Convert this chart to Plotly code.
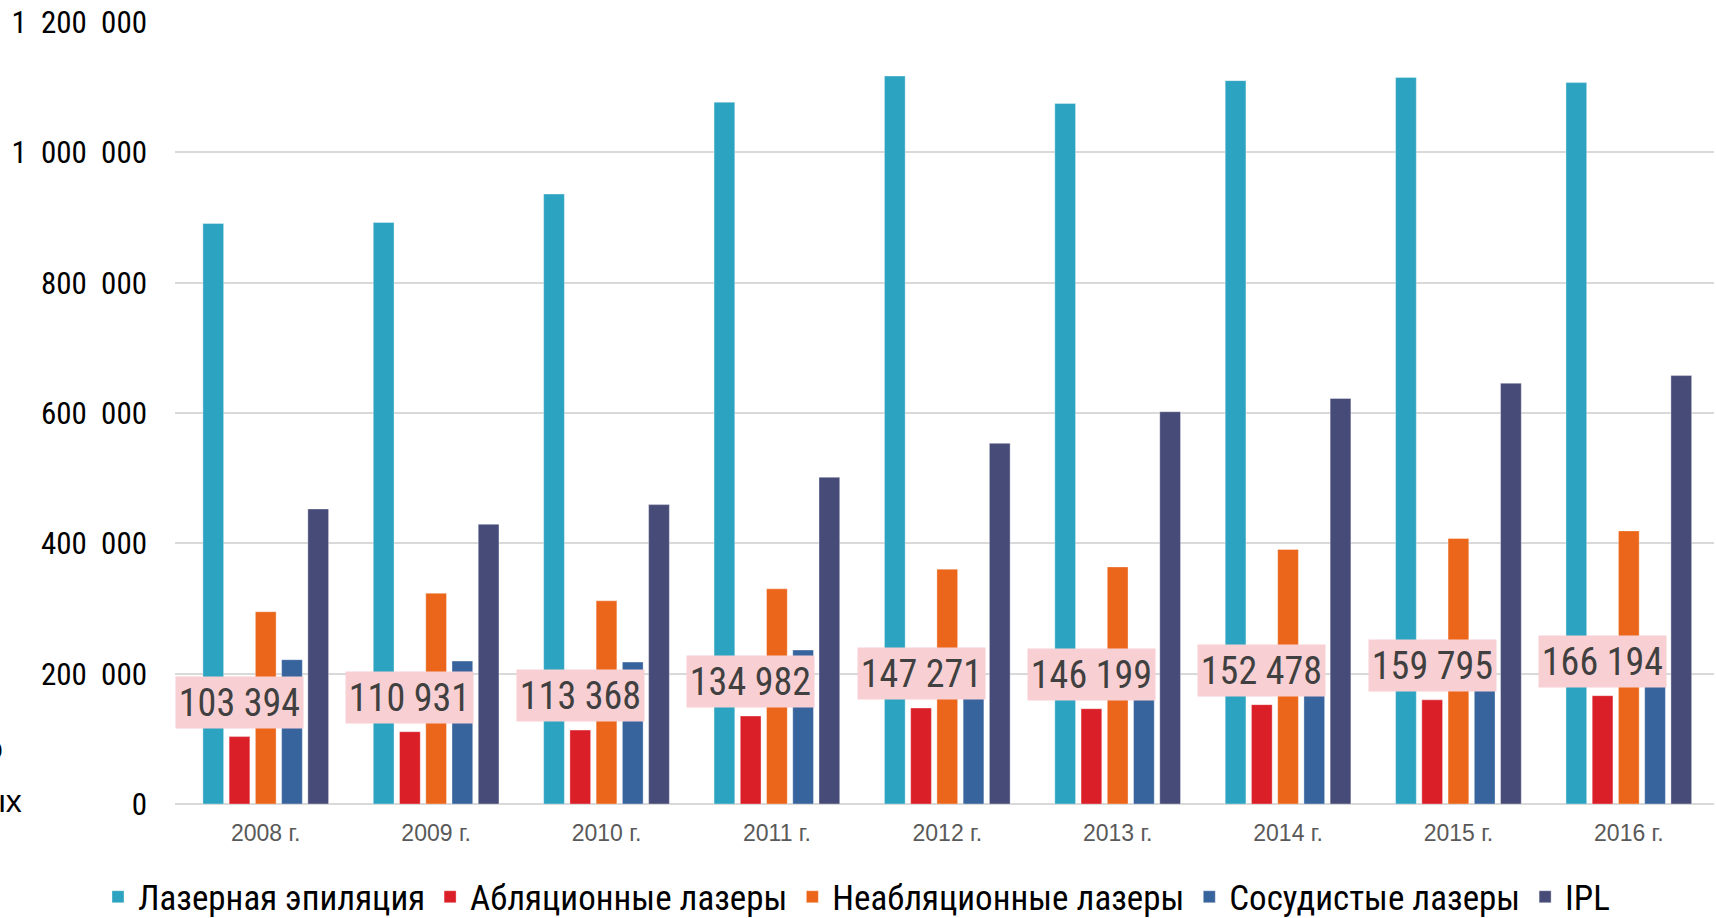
import plotly.graph_objects as go

years = ["2008 г.", "2009 г.", "2010 г.", "2011 г.", "2012 г.", "2013 г.", "2014 г.", "2015 г.", "2016 г."]
series_names = ["Лазерная эпиляция", "Абляционные лазеры", "Неабляционные лазеры", "Сосудистые лазеры", "IPL"]
hair_removal = [890700, 892400, 936000, 1077000, 1117000, 1075000, 1110000, 1115000, 1107000]
ablative = [103394, 110931, 113368, 134982, 147271, 146199, 152478, 159795, 166194]
non_ablative = [295000, 323500, 311800, 330200, 360400, 363800, 390600, 407400, 419100]
vascular = [221500, 219300, 217800, 236300, 225000, 222000, 230000, 236000, 242000]
ipl = [452700, 429200, 459400, 501400, 553400, 602000, 622200, 645700, 657400]
colors = ["#2CA3C0", "#DA1F28", "#EB661B", "#38649E", "#474B78"]
label_texts = ["103 394", "110 931", "113 368", "134 982", "147 271", "146 199", "152 478", "159 795", "166 194"]
y_tickvals = [0, 200000, 400000, 600000, 800000, 1000000, 1200000]
y_ticktext = ["0", "200\u00a0\u00a0000", "400\u00a0\u00a0000", "600\u00a0\u00a0000", "800\u00a0\u00a0000",
              "1\u00a0\u00a0000\u00a0\u00a0000", "1\u00a0\u00a0200\u00a0\u00a0000"]

NARROW = "Roboto Condensed, Liberation Sans Narrow, DejaVu Sans Condensed, sans-serif"

fig = go.Figure()
for name, vals, col in zip(series_names, [hair_removal, ablative, non_ablative, vascular, ipl], colors):
    fig.add_trace(go.Bar(
        name=name, x=years, y=vals,
        marker=dict(color=col, line=dict(color="rgba(255,255,255,0.35)", width=1)),
        hoverinfo="skip",
    ))

bargap = 0.23
slot = (1 - bargap) / 5
for i, (v, t) in enumerate(zip(ablative, label_texts)):
    fig.add_annotation(
        x=i - slot, y=v, xref="x", yref="y", text=t, showarrow=False,
        xanchor="center", yanchor="bottom", yshift=8,
        width=127, height=51, borderpad=0,
        bgcolor="#F8D0D3",
        font=dict(family=NARROW, size=38, color="#404040"),
    )

# partially visible axis title fragments at the left edge
fig.add_annotation(x=(5 - 175) / 1539, y=(804 - 748) / 782.3, xref="paper", yref="paper",
                   text="Количество", showarrow=False, xanchor="right", yanchor="middle",
                   font=dict(family="Liberation Sans, Arial, sans-serif", size=32, color="#000000"))
fig.add_annotation(x=(24 - 175) / 1539, y=(804 - 801) / 782.3, xref="paper", yref="paper",
                   text="лазерных", showarrow=False, xanchor="right", yanchor="middle",
                   font=dict(family="Liberation Sans, Arial, sans-serif", size=32, color="#000000"))

fig.update_layout(
    width=1716, height=918,
    margin=dict(l=175, r=2, t=22, b=114, autoexpand=False),
    paper_bgcolor="white", plot_bgcolor="white",
    barmode="group", bargap=bargap, bargroupgap=0.21,
    showlegend=True,
    legend=dict(
        orientation="h", xref="container", yref="container",
        x=98 / 1716, xanchor="left", y=1 - 897 / 918, yanchor="middle",
        font=dict(family=NARROW, size=35, color="#000000"),
        traceorder="normal", bgcolor="rgba(0,0,0,0)",
    ),
    xaxis=dict(
        type="category", showgrid=False, showline=False, zeroline=False,
        tickfont=dict(family="Liberation Sans, Arial, sans-serif", size=23, color="#595959"),
        ticks="", ticklabelstandoff=13,
    ),
    yaxis=dict(
        range=[0, 1200000], tickvals=y_tickvals, ticktext=y_ticktext,
        showgrid=True, gridcolor="#D9D9D9", gridwidth=1.6,
        zeroline=True, zerolinecolor="#D9D9D9", zerolinewidth=2,
        showline=False, ticks="", ticklabelstandoff=27,
        tickfont=dict(family=NARROW, size=31, color="#000000"),
    ),
)

fig.write_html("out.html")
